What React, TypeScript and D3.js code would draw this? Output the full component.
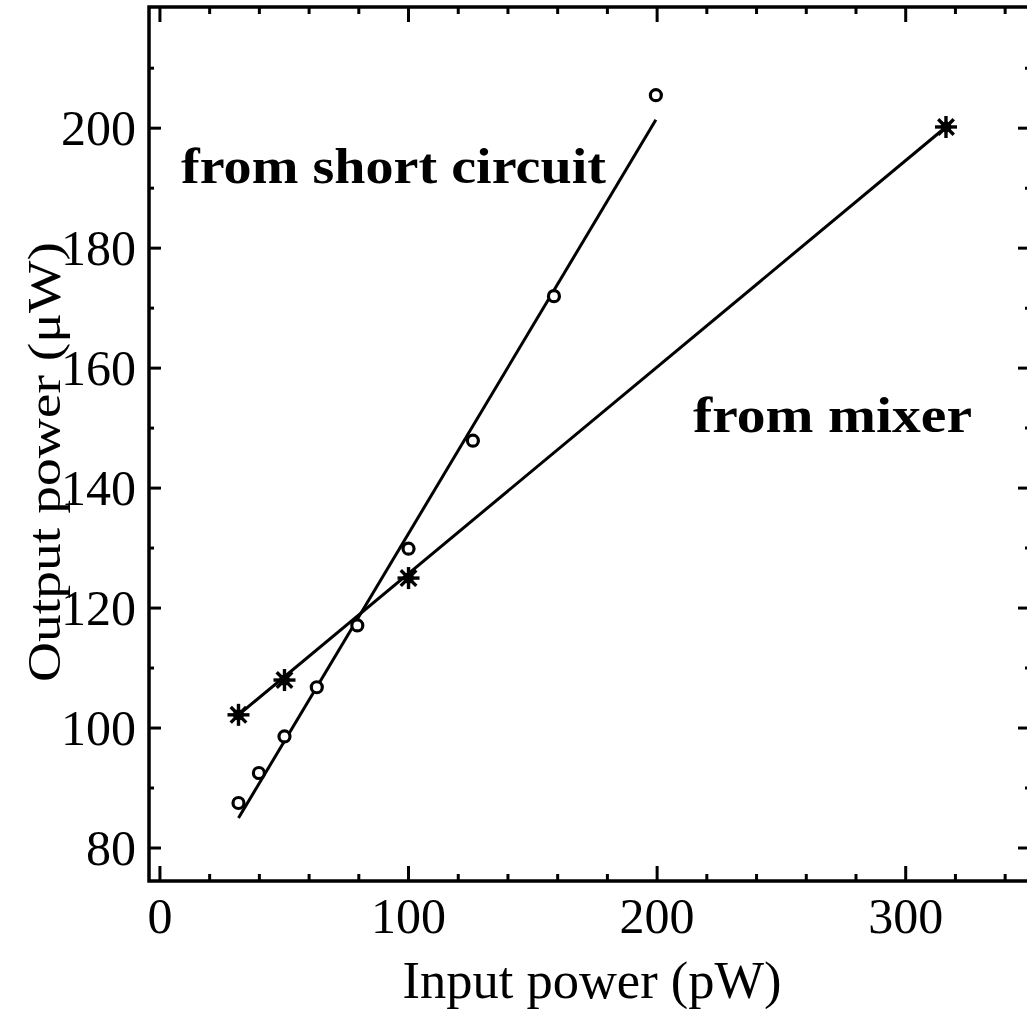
import React from "react";
import * as d3 from "d3";

const shortX = [31.6, 39.8, 50.1, 63.1, 79.4, 100, 125.9, 158.5, 199.5];
const shortY = [87.5, 92.5, 98.6, 106.8, 117.1, 129.9, 147.9, 172.0, 205.5];
const mixerX = [31.6, 50.1, 100, 316.2];
const mixerY = [102.2, 108.0, 125.0, 200.2];
const shortFitX = [31.6, 199.5];
const shortFitY = [85.0, 201.4];
const mixerFitX = [31.6, 316.2];
const mixerFitY = [102.2, 200.2];
const xTicks = [0, 100, 200, 300];
const yTicks = [80, 100, 120, 140, 160, 180, 200];

const W = 1027, H = 1014;
const L = 149, R = 1030, T = 7, B = 881;

export default function App() {
  const x = d3.scaleLinear().domain([-4.4, 350]).range([L, R]);
  const y = d3.scaleLinear().domain([74.5, 220.2]).range([B, T]);
  const xMinor = d3.range(0, 351, 20).filter((v) => v % 100 !== 0);
  const yMinor = d3.range(80, 221, 10).filter((v) => v % 20 !== 0);
  const line = d3.line<[number, number]>().x((d) => x(d[0])).y((d) => y(d[1]));
  const shortFit = shortFitX.map((v, i) => [v, shortFitY[i]] as [number, number]);
  const mixerFit = mixerFitX.map((v, i) => [v, mixerFitY[i]] as [number, number]);
  const font = "'Liberation Serif', 'Times New Roman', serif";

  const star = (cx: number, cy: number, k: number) => {
    const r = 11;
    const arms = [0, 45, 90, 135].map((a) => {
      const rad = (a * Math.PI) / 180;
      return (
        <line key={a} x1={cx - r * Math.cos(rad)} y1={cy - r * Math.sin(rad)} x2={cx + r * Math.cos(rad)} y2={cy + r * Math.sin(rad)} stroke="#000" strokeWidth={3.4} />
      );
    });
    return (
      <g key={k}>
        {arms}
        <circle cx={cx} cy={cy} r={5.5} fill="#000" />
      </g>
    );
  };

  return (
    <svg width={W} height={H} style={{ position: "absolute", left: 0, top: 0, background: "#fff" }}>
      <rect x={0} y={0} width={W} height={H} fill="#fff" />
      <rect x={L} y={T} width={R - L} height={B - T} fill="none" stroke="#000" strokeWidth={3.5} />
      {xTicks.map((v) => (
        <g key={"xt" + v}>
          <line x1={x(v)} x2={x(v)} y1={B} y2={B - 15} stroke="#000" strokeWidth={3} />
          <line x1={x(v)} x2={x(v)} y1={T} y2={T + 15} stroke="#000" strokeWidth={3} />
          <text x={x(v)} y={933} textAnchor="middle" fontFamily={font} fontSize={50}>{v}</text>
        </g>
      ))}
      {xMinor.map((v) => (
        <g key={"xm" + v}>
          <line x1={x(v)} x2={x(v)} y1={B} y2={B - 7} stroke="#000" strokeWidth={3} />
          <line x1={x(v)} x2={x(v)} y1={T} y2={T + 7} stroke="#000" strokeWidth={3} />
        </g>
      ))}
      {yTicks.map((v) => (
        <g key={"yt" + v}>
          <line x1={L} x2={L + 12} y1={y(v)} y2={y(v)} stroke="#000" strokeWidth={3} />
          <line x1={R} x2={R - 12} y1={y(v)} y2={y(v)} stroke="#000" strokeWidth={3} />
          <text x={136} y={y(v) + 17} textAnchor="end" fontFamily={font} fontSize={50}>{v}</text>
        </g>
      ))}
      {yMinor.map((v) => (
        <g key={"ym" + v}>
          <line x1={L} x2={L + 5} y1={y(v)} y2={y(v)} stroke="#000" strokeWidth={3} />
          <line x1={R} x2={R - 5} y1={y(v)} y2={y(v)} stroke="#000" strokeWidth={3} />
        </g>
      ))}
      <path d={line(shortFit) || ""} fill="none" stroke="#000" strokeWidth={3} />
      <path d={line(mixerFit) || ""} fill="none" stroke="#000" strokeWidth={3} />
      {shortX.map((v, i) => (
        <circle key={"c" + i} cx={x(v)} cy={y(shortY[i])} r={5.5} fill="#fff" stroke="#000" strokeWidth={3.2} />
      ))}
      {mixerX.map((v, i) => star(x(v), y(mixerY[i]), i))}
      <text x={181} y={183} fontFamily={font} fontSize={50} fontWeight="bold" textLength={425} lengthAdjust="spacingAndGlyphs">from  short  circuit</text>
      <text x={693} y={432} fontFamily={font} fontSize={50} fontWeight="bold" textLength={279} lengthAdjust="spacingAndGlyphs">from  mixer</text>
      <text x={592} y={998} textAnchor="middle" fontFamily={font} fontSize={52} textLength={379} lengthAdjust="spacingAndGlyphs">Input power (pW)</text>
      <text transform={`translate(60,462) rotate(-90)`} textAnchor="middle" fontFamily={font} fontSize={47} textLength={440} lengthAdjust="spacingAndGlyphs">Output power (μW)</text>
    </svg>
  );
}
